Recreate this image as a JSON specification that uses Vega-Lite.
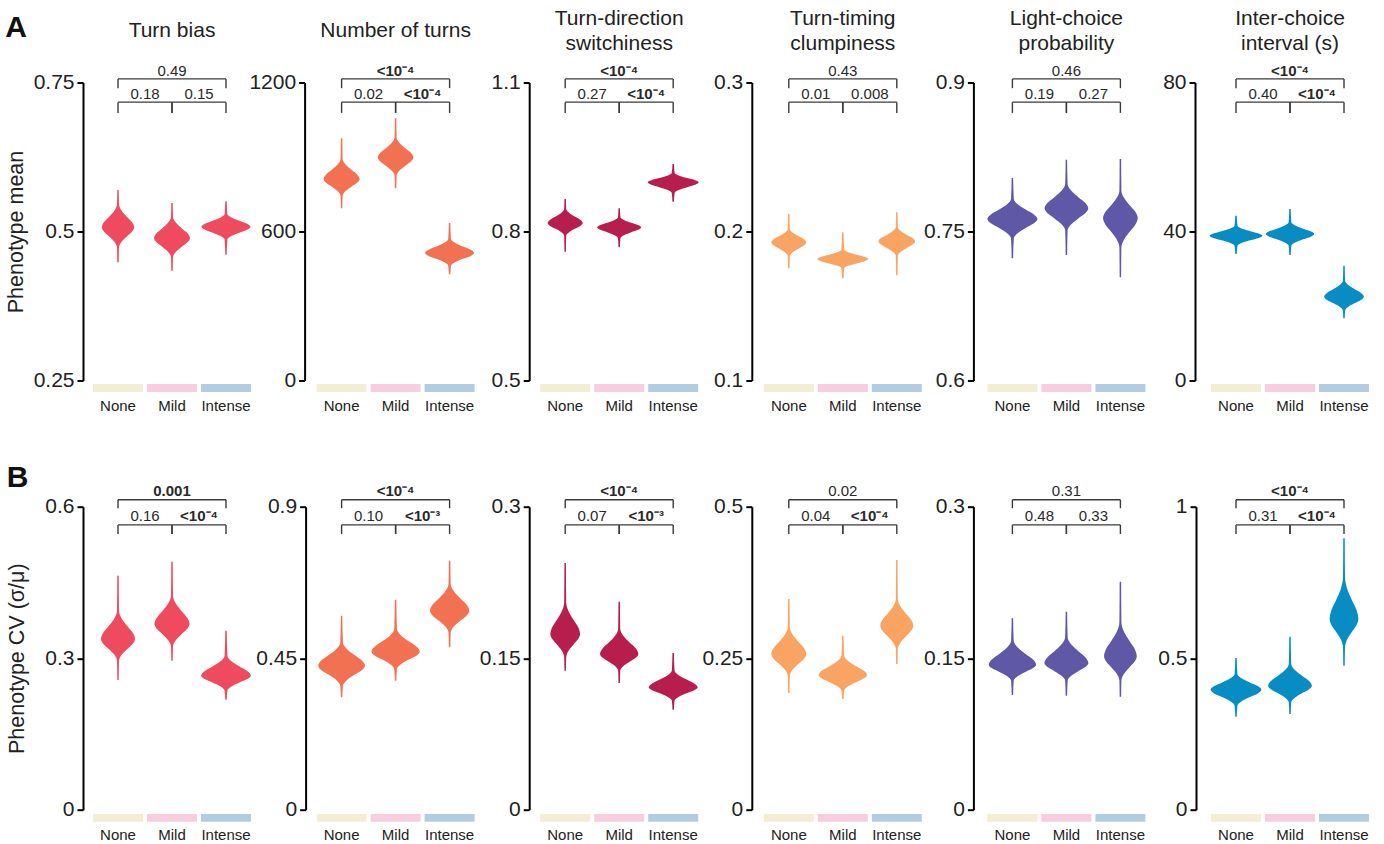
{
"$schema":"https://vega.github.io/schema/vega-lite/v6.json",
"padding":{"left":5,"top":7.5,"right":5,"bottom":5},
"background":"white",
"datasets":{
"brk":[{"t":"U","g1":"None","g2":"Intense"},{"t":"L","g1":"None","g2":"Mild"},{"t":"L","g1":"Mild","g2":"Intense"}],
"grp":[{"g":"None"},{"g":"Mild"},{"g":"Intense"}],
"lab":[
{"p":"A1","g1":"Mild","t":"0.49","b":0},{"p":"A1","g1":"NM","t":"0.18","b":0},{"p":"A1","g1":"MI","t":"0.15","b":0},
{"p":"A2","g1":"Mild","t":"<10⁻⁴","b":1},{"p":"A2","g1":"NM","t":"0.02","b":0},{"p":"A2","g1":"MI","t":"<10⁻⁴","b":1},
{"p":"A3","g1":"Mild","t":"<10⁻⁴","b":1},{"p":"A3","g1":"NM","t":"0.27","b":0},{"p":"A3","g1":"MI","t":"<10⁻⁴","b":1},
{"p":"A4","g1":"Mild","t":"0.43","b":0},{"p":"A4","g1":"NM","t":"0.01","b":0},{"p":"A4","g1":"MI","t":"0.008","b":0},
{"p":"A5","g1":"Mild","t":"0.46","b":0},{"p":"A5","g1":"NM","t":"0.19","b":0},{"p":"A5","g1":"MI","t":"0.27","b":0},
{"p":"A6","g1":"Mild","t":"<10⁻⁴","b":1},{"p":"A6","g1":"NM","t":"0.40","b":0},{"p":"A6","g1":"MI","t":"<10⁻⁴","b":1},
{"p":"B1","g1":"Mild","t":"0.001","b":1},{"p":"B1","g1":"NM","t":"0.16","b":0},{"p":"B1","g1":"MI","t":"<10⁻⁴","b":1},
{"p":"B2","g1":"Mild","t":"<10⁻⁴","b":1},{"p":"B2","g1":"NM","t":"0.10","b":0},{"p":"B2","g1":"MI","t":"<10⁻³","b":1},
{"p":"B3","g1":"Mild","t":"<10⁻⁴","b":1},{"p":"B3","g1":"NM","t":"0.07","b":0},{"p":"B3","g1":"MI","t":"<10⁻³","b":1},
{"p":"B4","g1":"Mild","t":"0.02","b":0},{"p":"B4","g1":"NM","t":"0.04","b":0},{"p":"B4","g1":"MI","t":"<10⁻⁴","b":1},
{"p":"B5","g1":"Mild","t":"0.31","b":0},{"p":"B5","g1":"NM","t":"0.48","b":0},{"p":"B5","g1":"MI","t":"0.33","b":0},
{"p":"B6","g1":"Mild","t":"<10⁻⁴","b":1},{"p":"B6","g1":"NM","t":"0.31","b":0},{"p":"B6","g1":"MI","t":"<10⁻⁴","b":1}
],
"vio":[
{"p":"A1","g":"N","v":0.5696,"d":1.5},{"p":"A1","g":"N","v":0.5457,"d":2},{"p":"A1","g":"N","v":0.5344,"d":7.6},{"p":"A1","g":"N","v":0.5248,"d":17.6},{"p":"A1","g":"N","v":0.5159,"d":27.8},{"p":"A1","g":"N","v":0.5071,"d":32.3},{"p":"A1","g":"N","v":0.4994,"d":27.8},{"p":"A1","g":"N","v":0.4917,"d":17.6},{"p":"A1","g":"N","v":0.4833,"d":7.6},{"p":"A1","g":"N","v":0.4735,"d":2},{"p":"A1","g":"N","v":0.4483,"d":1.5},
{"p":"A1","g":"M","v":0.5478,"d":1.5},{"p":"A1","g":"M","v":0.5243,"d":2},{"p":"A1","g":"M","v":0.5141,"d":8.5},{"p":"A1","g":"M","v":0.5052,"d":19.7},{"p":"A1","g":"M","v":0.4972,"d":31},{"p":"A1","g":"M","v":0.4891,"d":36},{"p":"A1","g":"M","v":0.4818,"d":31},{"p":"A1","g":"M","v":0.4745,"d":19.7},{"p":"A1","g":"M","v":0.4665,"d":8.5},{"p":"A1","g":"M","v":0.4572,"d":2},{"p":"A1","g":"M","v":0.4342,"d":1.5},
{"p":"A1","g":"I","v":0.5507,"d":1.5},{"p":"A1","g":"I","v":0.5294,"d":2.7},{"p":"A1","g":"I","v":0.5232,"d":11.6},{"p":"A1","g":"I","v":0.5179,"d":26.8},{"p":"A1","g":"I","v":0.5130,"d":42.1},{"p":"A1","g":"I","v":0.5081,"d":49},{"p":"A1","g":"I","v":0.5031,"d":42.1},{"p":"A1","g":"I","v":0.4981,"d":26.8},{"p":"A1","g":"I","v":0.4927,"d":11.6},{"p":"A1","g":"I","v":0.4863,"d":2.7},{"p":"A1","g":"I","v":0.4611,"d":1.5},
{"p":"A2","g":"N","v":975.3,"d":1.5},{"p":"A2","g":"N","v":891.9,"d":2},{"p":"A2","g":"N","v":868.4,"d":8.5},{"p":"A2","g":"N","v":848.3,"d":19.7},{"p":"A2","g":"N","v":829.8,"d":31},{"p":"A2","g":"N","v":811.4,"d":36},{"p":"A2","g":"N","v":796.0,"d":31},{"p":"A2","g":"N","v":780.6,"d":19.7},{"p":"A2","g":"N","v":763.8,"d":8.5},{"p":"A2","g":"N","v":744.2,"d":2},{"p":"A2","g":"N","v":693.4,"d":1.5},
{"p":"A2","g":"M","v":1055.8,"d":1.5},{"p":"A2","g":"M","v":979.3,"d":2},{"p":"A2","g":"M","v":955.8,"d":8.4},{"p":"A2","g":"M","v":935.7,"d":19.5},{"p":"A2","g":"M","v":917.2,"d":30.7},{"p":"A2","g":"M","v":898.8,"d":35.7},{"p":"A2","g":"M","v":881.9,"d":30.7},{"p":"A2","g":"M","v":865.0,"d":19.5},{"p":"A2","g":"M","v":846.6,"d":8.4},{"p":"A2","g":"M","v":825.1,"d":2},{"p":"A2","g":"M","v":773.9,"d":1.5},
{"p":"A2","g":"I","v":634.2,"d":1.5},{"p":"A2","g":"I","v":569.8,"d":2.7},{"p":"A2","g":"I","v":553.3,"d":11.6},{"p":"A2","g":"I","v":539.2,"d":26.8},{"p":"A2","g":"I","v":526.3,"d":42.1},{"p":"A2","g":"I","v":513.4,"d":49},{"p":"A2","g":"I","v":501.7,"d":42.1},{"p":"A2","g":"I","v":490.0,"d":26.8},{"p":"A2","g":"I","v":477.2,"d":11.6},{"p":"A2","g":"I","v":462.3,"d":2.7},{"p":"A2","g":"I","v":427.6,"d":1.5},
{"p":"A3","g":"N","v":0.8654,"d":1.5},{"p":"A3","g":"N","v":0.8453,"d":2},{"p":"A3","g":"N","v":0.8371,"d":8.3},{"p":"A3","g":"N","v":0.8300,"d":19.1},{"p":"A3","g":"N","v":0.8236,"d":30.1},{"p":"A3","g":"N","v":0.8171,"d":35},{"p":"A3","g":"N","v":0.8112,"d":30.1},{"p":"A3","g":"N","v":0.8054,"d":19.1},{"p":"A3","g":"N","v":0.7990,"d":8.3},{"p":"A3","g":"N","v":0.7915,"d":2},{"p":"A3","g":"N","v":0.7593,"d":1.5},
{"p":"A3","g":"M","v":0.8467,"d":1.5},{"p":"A3","g":"M","v":0.8286,"d":2.5},{"p":"A3","g":"M","v":0.8228,"d":10.4},{"p":"A3","g":"M","v":0.8177,"d":24},{"p":"A3","g":"M","v":0.8131,"d":37.8},{"p":"A3","g":"M","v":0.8085,"d":44},{"p":"A3","g":"M","v":0.8034,"d":37.8},{"p":"A3","g":"M","v":0.7984,"d":24},{"p":"A3","g":"M","v":0.7928,"d":10.4},{"p":"A3","g":"M","v":0.7864,"d":2.5},{"p":"A3","g":"M","v":0.7682,"d":1.5},
{"p":"A3","g":"I","v":0.9359,"d":1.5},{"p":"A3","g":"I","v":0.9178,"d":2.9},{"p":"A3","g":"I","v":0.9124,"d":12},{"p":"A3","g":"I","v":0.9077,"d":27.8},{"p":"A3","g":"I","v":0.9034,"d":43.9},{"p":"A3","g":"I","v":0.8991,"d":51},{"p":"A3","g":"I","v":0.8942,"d":43.9},{"p":"A3","g":"I","v":0.8892,"d":27.8},{"p":"A3","g":"I","v":0.8839,"d":12},{"p":"A3","g":"I","v":0.8776,"d":2.9},{"p":"A3","g":"I","v":0.8600,"d":1.5},
{"p":"A4","g":"N","v":0.2117,"d":1.5},{"p":"A4","g":"N","v":0.2017,"d":2},{"p":"A4","g":"N","v":0.1991,"d":8.3},{"p":"A4","g":"N","v":0.1969,"d":19.1},{"p":"A4","g":"N","v":0.1948,"d":30.1},{"p":"A4","g":"N","v":0.1928,"d":35},{"p":"A4","g":"N","v":0.1906,"d":30.1},{"p":"A4","g":"N","v":0.1885,"d":19.1},{"p":"A4","g":"N","v":0.1862,"d":8.3},{"p":"A4","g":"N","v":0.1834,"d":2},{"p":"A4","g":"N","v":0.1753,"d":1.5},
{"p":"A4","g":"M","v":0.1995,"d":1.5},{"p":"A4","g":"M","v":0.1877,"d":2.9},{"p":"A4","g":"M","v":0.1859,"d":12},{"p":"A4","g":"M","v":0.1844,"d":27.8},{"p":"A4","g":"M","v":0.1829,"d":43.9},{"p":"A4","g":"M","v":0.1815,"d":51},{"p":"A4","g":"M","v":0.1801,"d":43.9},{"p":"A4","g":"M","v":0.1786,"d":27.8},{"p":"A4","g":"M","v":0.1771,"d":12},{"p":"A4","g":"M","v":0.1753,"d":2.9},{"p":"A4","g":"M","v":0.1686,"d":1.5},
{"p":"A4","g":"I","v":0.2129,"d":1.5},{"p":"A4","g":"I","v":0.2028,"d":2.1},{"p":"A4","g":"I","v":0.2001,"d":8.7},{"p":"A4","g":"I","v":0.1977,"d":20},{"p":"A4","g":"I","v":0.1956,"d":31.6},{"p":"A4","g":"I","v":0.1934,"d":36.7},{"p":"A4","g":"I","v":0.1912,"d":31.6},{"p":"A4","g":"I","v":0.1890,"d":20},{"p":"A4","g":"I","v":0.1866,"d":8.7},{"p":"A4","g":"I","v":0.1838,"d":2.1},{"p":"A4","g":"I","v":0.1708,"d":1.5},
{"p":"A5","g":"N","v":0.8039,"d":1.5},{"p":"A5","g":"N","v":0.7827,"d":2.8},{"p":"A5","g":"N","v":0.7769,"d":11.8},{"p":"A5","g":"N","v":0.7718,"d":27.3},{"p":"A5","g":"N","v":0.7672,"d":43},{"p":"A5","g":"N","v":0.7626,"d":50},{"p":"A5","g":"N","v":0.7582,"d":43},{"p":"A5","g":"N","v":0.7537,"d":27.3},{"p":"A5","g":"N","v":0.7488,"d":11.8},{"p":"A5","g":"N","v":0.7432,"d":2.8},{"p":"A5","g":"N","v":0.7230,"d":1.5},
{"p":"A5","g":"M","v":0.8223,"d":1.5},{"p":"A5","g":"M","v":0.7979,"d":2.4},{"p":"A5","g":"M","v":0.7907,"d":10.3},{"p":"A5","g":"M","v":0.7846,"d":23.9},{"p":"A5","g":"M","v":0.7790,"d":37.6},{"p":"A5","g":"M","v":0.7734,"d":43.7},{"p":"A5","g":"M","v":0.7683,"d":37.6},{"p":"A5","g":"M","v":0.7631,"d":23.9},{"p":"A5","g":"M","v":0.7575,"d":10.3},{"p":"A5","g":"M","v":0.7510,"d":2.4},{"p":"A5","g":"M","v":0.7263,"d":1.5},
{"p":"A5","g":"I","v":0.8230,"d":1.5},{"p":"A5","g":"I","v":0.7911,"d":2},{"p":"A5","g":"I","v":0.7831,"d":8.2},{"p":"A5","g":"I","v":0.7762,"d":18.9},{"p":"A5","g":"I","v":0.7699,"d":29.8},{"p":"A5","g":"I","v":0.7636,"d":34.7},{"p":"A5","g":"I","v":0.7569,"d":29.8},{"p":"A5","g":"I","v":0.7501,"d":18.9},{"p":"A5","g":"I","v":0.7427,"d":8.2},{"p":"A5","g":"I","v":0.7341,"d":2},{"p":"A5","g":"I","v":0.7039,"d":1.5},
{"p":"A6","g":"N","v":44.24,"d":1.5},{"p":"A6","g":"N","v":41.56,"d":3},{"p":"A6","g":"N","v":40.77,"d":12.4},{"p":"A6","g":"N","v":40.10,"d":28.8},{"p":"A6","g":"N","v":39.49,"d":45.3},{"p":"A6","g":"N","v":38.87,"d":52.7},{"p":"A6","g":"N","v":38.26,"d":45.3},{"p":"A6","g":"N","v":37.64,"d":28.8},{"p":"A6","g":"N","v":36.97,"d":12.4},{"p":"A6","g":"N","v":36.19,"d":3},{"p":"A6","g":"N","v":33.96,"d":1.5},
{"p":"A6","g":"M","v":46.04,"d":1.5},{"p":"A6","g":"M","v":42.47,"d":2.7},{"p":"A6","g":"M","v":41.55,"d":11.4},{"p":"A6","g":"M","v":40.77,"d":26.4},{"p":"A6","g":"M","v":40.05,"d":41.5},{"p":"A6","g":"M","v":39.33,"d":48.3},{"p":"A6","g":"M","v":38.61,"d":41.5},{"p":"A6","g":"M","v":37.89,"d":26.4},{"p":"A6","g":"M","v":37.11,"d":11.4},{"p":"A6","g":"M","v":36.19,"d":2.7},{"p":"A6","g":"M","v":33.69,"d":1.5},
{"p":"A6","g":"I","v":30.82,"d":1.5},{"p":"A6","g":"I","v":26.80,"d":2.2},{"p":"A6","g":"I","v":25.54,"d":9.4},{"p":"A6","g":"I","v":24.47,"d":21.7},{"p":"A6","g":"I","v":23.48,"d":34.1},{"p":"A6","g":"I","v":22.50,"d":39.7},{"p":"A6","g":"I","v":21.64,"d":34.1},{"p":"A6","g":"I","v":20.78,"d":21.7},{"p":"A6","g":"I","v":19.84,"d":9.4},{"p":"A6","g":"I","v":18.74,"d":2.2},{"p":"A6","g":"I","v":16.70,"d":1.5},
{"p":"B1","g":"N","v":0.4634,"d":1.5},{"p":"B1","g":"N","v":0.3941,"d":2},{"p":"B1","g":"N","v":0.3777,"d":8},{"p":"B1","g":"N","v":0.3637,"d":18.6},{"p":"B1","g":"N","v":0.3508,"d":29.2},{"p":"B1","g":"N","v":0.3380,"d":34},{"p":"B1","g":"N","v":0.3282,"d":29.2},{"p":"B1","g":"N","v":0.3183,"d":18.6},{"p":"B1","g":"N","v":0.3076,"d":8},{"p":"B1","g":"N","v":0.2950,"d":2},{"p":"B1","g":"N","v":0.2568,"d":1.5},
{"p":"B1","g":"M","v":0.4911,"d":1.5},{"p":"B1","g":"M","v":0.4238,"d":2},{"p":"B1","g":"M","v":0.4074,"d":8.3},{"p":"B1","g":"M","v":0.3934,"d":19.1},{"p":"B1","g":"M","v":0.3805,"d":30.1},{"p":"B1","g":"M","v":0.3677,"d":35},{"p":"B1","g":"M","v":0.3576,"d":30.1},{"p":"B1","g":"M","v":0.3475,"d":19.1},{"p":"B1","g":"M","v":0.3364,"d":8.3},{"p":"B1","g":"M","v":0.3235,"d":2},{"p":"B1","g":"M","v":0.2951,"d":1.5},
{"p":"B1","g":"I","v":0.3545,"d":1.5},{"p":"B1","g":"I","v":0.3050,"d":2.8},{"p":"B1","g":"I","v":0.2934,"d":11.7},{"p":"B1","g":"I","v":0.2835,"d":27.1},{"p":"B1","g":"I","v":0.2745,"d":42.7},{"p":"B1","g":"I","v":0.2654,"d":49.7},{"p":"B1","g":"I","v":0.2586,"d":42.7},{"p":"B1","g":"I","v":0.2518,"d":27.1},{"p":"B1","g":"I","v":0.2444,"d":11.7},{"p":"B1","g":"I","v":0.2357,"d":2.8},{"p":"B1","g":"I","v":0.2178,"d":1.5},
{"p":"B2","g":"N","v":0.5762,"d":1.5},{"p":"B2","g":"N","v":0.4969,"d":2.6},{"p":"B2","g":"N","v":0.4767,"d":11},{"p":"B2","g":"N","v":0.4594,"d":25.5},{"p":"B2","g":"N","v":0.4436,"d":40.2},{"p":"B2","g":"N","v":0.4277,"d":46.7},{"p":"B2","g":"N","v":0.4141,"d":40.2},{"p":"B2","g":"N","v":0.4005,"d":25.5},{"p":"B2","g":"N","v":0.3856,"d":11},{"p":"B2","g":"N","v":0.3683,"d":2.6},{"p":"B2","g":"N","v":0.3339,"d":1.5},
{"p":"B2","g":"M","v":0.6238,"d":1.5},{"p":"B2","g":"M","v":0.5367,"d":2.7},{"p":"B2","g":"M","v":0.5170,"d":11.4},{"p":"B2","g":"M","v":0.5002,"d":26.4},{"p":"B2","g":"M","v":0.4847,"d":41.5},{"p":"B2","g":"M","v":0.4693,"d":48.3},{"p":"B2","g":"M","v":0.4575,"d":41.5},{"p":"B2","g":"M","v":0.4458,"d":26.4},{"p":"B2","g":"M","v":0.4329,"d":11.4},{"p":"B2","g":"M","v":0.4179,"d":2.7},{"p":"B2","g":"M","v":0.3832,"d":1.5},
{"p":"B2","g":"I","v":0.7396,"d":1.5},{"p":"B2","g":"I","v":0.6704,"d":2.2},{"p":"B2","g":"I","v":0.6473,"d":9.3},{"p":"B2","g":"I","v":0.6274,"d":21.5},{"p":"B2","g":"I","v":0.6093,"d":33.8},{"p":"B2","g":"I","v":0.5911,"d":39.3},{"p":"B2","g":"I","v":0.5763,"d":33.8},{"p":"B2","g":"I","v":0.5616,"d":21.5},{"p":"B2","g":"I","v":0.5455,"d":9.3},{"p":"B2","g":"I","v":0.5266,"d":2.2},{"p":"B2","g":"I","v":0.4824,"d":1.5},
{"p":"B3","g":"N","v":0.2443,"d":1.5},{"p":"B3","g":"N","v":0.2054,"d":2},{"p":"B3","g":"N","v":0.1962,"d":7},{"p":"B3","g":"N","v":0.1884,"d":16.2},{"p":"B3","g":"N","v":0.1812,"d":25.5},{"p":"B3","g":"N","v":0.1740,"d":29.7},{"p":"B3","g":"N","v":0.1687,"d":25.5},{"p":"B3","g":"N","v":0.1634,"d":16.2},{"p":"B3","g":"N","v":0.1577,"d":7},{"p":"B3","g":"N","v":0.1509,"d":2},{"p":"B3","g":"N","v":0.1376,"d":1.5},
{"p":"B3","g":"M","v":0.2059,"d":1.5},{"p":"B3","g":"M","v":0.1790,"d":2.1},{"p":"B3","g":"M","v":0.1717,"d":9},{"p":"B3","g":"M","v":0.1655,"d":20.9},{"p":"B3","g":"M","v":0.1599,"d":32.9},{"p":"B3","g":"M","v":0.1542,"d":38.3},{"p":"B3","g":"M","v":0.1504,"d":32.9},{"p":"B3","g":"M","v":0.1466,"d":20.9},{"p":"B3","g":"M","v":0.1425,"d":9},{"p":"B3","g":"M","v":0.1377,"d":2.1},{"p":"B3","g":"M","v":0.1254,"d":1.5},
{"p":"B3","g":"I","v":0.1551,"d":1.5},{"p":"B3","g":"I","v":0.1377,"d":2.7},{"p":"B3","g":"I","v":0.1329,"d":11.6},{"p":"B3","g":"I","v":0.1288,"d":26.8},{"p":"B3","g":"I","v":0.1250,"d":42.1},{"p":"B3","g":"I","v":0.1212,"d":49},{"p":"B3","g":"I","v":0.1182,"d":42.1},{"p":"B3","g":"I","v":0.1152,"d":26.8},{"p":"B3","g":"I","v":0.1119,"d":11.6},{"p":"B3","g":"I","v":0.1080,"d":2.7},{"p":"B3","g":"I","v":0.0990,"d":1.5},
{"p":"B4","g":"N","v":0.3477,"d":1.5},{"p":"B4","g":"N","v":0.3010,"d":2},{"p":"B4","g":"N","v":0.2881,"d":8.3},{"p":"B4","g":"N","v":0.2771,"d":19.1},{"p":"B4","g":"N","v":0.2670,"d":30.1},{"p":"B4","g":"N","v":0.2569,"d":35},{"p":"B4","g":"N","v":0.2487,"d":30.1},{"p":"B4","g":"N","v":0.2405,"d":19.1},{"p":"B4","g":"N","v":0.2316,"d":8.3},{"p":"B4","g":"N","v":0.2211,"d":2},{"p":"B4","g":"N","v":0.1926,"d":1.5},
{"p":"B4","g":"M","v":0.2871,"d":1.5},{"p":"B4","g":"M","v":0.2542,"d":2.7},{"p":"B4","g":"M","v":0.2449,"d":11.4},{"p":"B4","g":"M","v":0.2369,"d":26.4},{"p":"B4","g":"M","v":0.2296,"d":41.5},{"p":"B4","g":"M","v":0.2223,"d":48.3},{"p":"B4","g":"M","v":0.2164,"d":41.5},{"p":"B4","g":"M","v":0.2104,"d":26.4},{"p":"B4","g":"M","v":0.2040,"d":11.4},{"p":"B4","g":"M","v":0.1964,"d":2.7},{"p":"B4","g":"M","v":0.1827,"d":1.5},
{"p":"B4","g":"I","v":0.4121,"d":1.5},{"p":"B4","g":"I","v":0.3477,"d":2},{"p":"B4","g":"I","v":0.3348,"d":7.8},{"p":"B4","g":"I","v":0.3238,"d":18},{"p":"B4","g":"I","v":0.3137,"d":28.4},{"p":"B4","g":"I","v":0.3036,"d":33},{"p":"B4","g":"I","v":0.2948,"d":28.4},{"p":"B4","g":"I","v":0.2860,"d":18},{"p":"B4","g":"I","v":0.2764,"d":7.8},{"p":"B4","g":"I","v":0.2652,"d":2},{"p":"B4","g":"I","v":0.2404,"d":1.5},
{"p":"B5","g":"N","v":0.1895,"d":1.5},{"p":"B5","g":"N","v":0.1674,"d":2.6},{"p":"B5","g":"N","v":0.1604,"d":11.2},{"p":"B5","g":"N","v":0.1545,"d":25.8},{"p":"B5","g":"N","v":0.1490,"d":40.7},{"p":"B5","g":"N","v":0.1436,"d":47.3},{"p":"B5","g":"N","v":0.1400,"d":40.7},{"p":"B5","g":"N","v":0.1364,"d":25.8},{"p":"B5","g":"N","v":0.1324,"d":11.2},{"p":"B5","g":"N","v":0.1278,"d":2.6},{"p":"B5","g":"N","v":0.1136,"d":1.5},
{"p":"B5","g":"M","v":0.1960,"d":1.5},{"p":"B5","g":"M","v":0.1707,"d":2.5},{"p":"B5","g":"M","v":0.1632,"d":10.4},{"p":"B5","g":"M","v":0.1569,"d":24},{"p":"B5","g":"M","v":0.1510,"d":37.8},{"p":"B5","g":"M","v":0.1452,"d":44},{"p":"B5","g":"M","v":0.1412,"d":37.8},{"p":"B5","g":"M","v":0.1372,"d":24},{"p":"B5","g":"M","v":0.1328,"d":10.4},{"p":"B5","g":"M","v":0.1277,"d":2.5},{"p":"B5","g":"M","v":0.1129,"d":1.5},
{"p":"B5","g":"I","v":0.2257,"d":1.5},{"p":"B5","g":"I","v":0.1856,"d":2},{"p":"B5","g":"I","v":0.1757,"d":7.7},{"p":"B5","g":"I","v":0.1673,"d":17.9},{"p":"B5","g":"I","v":0.1596,"d":28.1},{"p":"B5","g":"I","v":0.1519,"d":32.7},{"p":"B5","g":"I","v":0.1464,"d":28.1},{"p":"B5","g":"I","v":0.1409,"d":17.9},{"p":"B5","g":"I","v":0.1349,"d":7.7},{"p":"B5","g":"I","v":0.1278,"d":2},{"p":"B5","g":"I","v":0.1119,"d":1.5},
{"p":"B6","g":"N","v":0.5007,"d":1.5},{"p":"B6","g":"N","v":0.4478,"d":2.8},{"p":"B6","g":"N","v":0.4327,"d":12},{"p":"B6","g":"N","v":0.4198,"d":27.7},{"p":"B6","g":"N","v":0.4079,"d":43.6},{"p":"B6","g":"N","v":0.3960,"d":50.7},{"p":"B6","g":"N","v":0.3839,"d":43.6},{"p":"B6","g":"N","v":0.3718,"d":27.7},{"p":"B6","g":"N","v":0.3586,"d":12},{"p":"B6","g":"N","v":0.3432,"d":2.8},{"p":"B6","g":"N","v":0.3069,"d":1.5},
{"p":"B6","g":"M","v":0.5710,"d":1.5},{"p":"B6","g":"M","v":0.4808,"d":2.4},{"p":"B6","g":"M","v":0.4599,"d":10.3},{"p":"B6","g":"M","v":0.4420,"d":23.9},{"p":"B6","g":"M","v":0.4256,"d":37.6},{"p":"B6","g":"M","v":0.4092,"d":43.7},{"p":"B6","g":"M","v":0.3966,"d":37.6},{"p":"B6","g":"M","v":0.3840,"d":23.9},{"p":"B6","g":"M","v":0.3702,"d":10.3},{"p":"B6","g":"M","v":0.3541,"d":2.4},{"p":"B6","g":"M","v":0.3158,"d":1.5},
{"p":"B6","g":"I","v":0.8957,"d":1.5},{"p":"B6","g":"I","v":0.7670,"d":2},{"p":"B6","g":"I","v":0.7268,"d":6.8},{"p":"B6","g":"I","v":0.6924,"d":15.7},{"p":"B6","g":"I","v":0.6609,"d":24.7},{"p":"B6","g":"I","v":0.6294,"d":28.7},{"p":"B6","g":"I","v":0.6080,"d":24.7},{"p":"B6","g":"I","v":0.5866,"d":15.7},{"p":"B6","g":"I","v":0.5633,"d":6.8},{"p":"B6","g":"I","v":0.5360,"d":2},{"p":"B6","g":"I","v":0.4752,"d":1.5}
]
},
"config":{
"font":"Liberation Sans",
"view":{"stroke":null},
"axis":{"grid":false,"domainColor":"#000","domainWidth":2,"tickColor":"#000","tickWidth":2,"tickSize":6,"labelFontSize":21,"labelColor":"#222","labelPadding":3,"titleFontSize":21.5,"titleFontWeight":"normal","titleColor":"#222","titlePadding":6},
"title":{"fontSize":21,"fontWeight":"normal","color":"#222","baseline":"middle","lineHeight":25,"offset":22.5},
"rule":{"color":"#3a3a3a","strokeWidth":1.4},
"text":{"fontSize":15,"color":"#2a2a2a","baseline":"alphabetic"},
"area":{"interpolate":"monotone","orient":"horizontal"}
},
"bounds":"flush","spacing":424.2,
"vconcat":[
{"title":{"text":"A","fontSize":30,"fontWeight":"bold","anchor":"start","offset":-35,"color":"#111"},"bounds":"flush","spacing":61.6,
"hconcat":[
{"width":162,"height":298,"title":"Turn bias","data":{"name":"vio"},"resolve":{"scale":{"x":"independent","y":"independent"}},"layer":[
{"transform":[{"filter":"datum.p=='A1'&&datum.g=='N'"}],"mark":{"type":"area","color":"#EF4B5F"},"encoding":{"y":{"field":"v","type":"quantitative","scale":{"domain":[0.25,0.75]},"axis":{"values":[0.25,0.5,0.75],"format":".4~g","title":"Phenotype mean","offset":8}},"x":{"field":"d","type":"quantitative","stack":"center","scale":{"domain":[-10.85,151.15]},"axis":null}}},
{"transform":[{"filter":"datum.p=='A1'&&datum.g=='M'"}],"mark":{"type":"area","color":"#EF4B5F"},"encoding":{"y":{"field":"v","type":"quantitative","scale":{"domain":[0.25,0.75]},"axis":null},"x":{"field":"d","type":"quantitative","stack":"center","scale":{"domain":[-63,99]},"axis":null}}},
{"transform":[{"filter":"datum.p=='A1'&&datum.g=='I'"}],"mark":{"type":"area","color":"#EF4B5F"},"encoding":{"y":{"field":"v","type":"quantitative","scale":{"domain":[0.25,0.75]},"axis":null},"x":{"field":"d","type":"quantitative","stack":"center","scale":{"domain":[-110.5,51.5]},"axis":null}}},
{"data":{"name":"brk"},"encoding":{"x":{"field":"g1","type":"nominal","scale":{"type":"point","domain":["None","NM","Mild","MI","Intense"],"padding":1},"axis":null}},"layer":[
{"transform":[{"filter":"datum.t=='U'"}],"mark":"rule","encoding":{"x2":{"field":"g2"},"y":{"datum":101.2,"scale":{"domain":[0,100]},"axis":null}}},
{"transform":[{"filter":"datum.t=='L'"}],"mark":"rule","encoding":{"x2":{"field":"g2"},"y":{"datum":93.4,"scale":{"domain":[0,100]},"axis":null}}},
{"transform":[{"filter":"datum.t=='U'"},{"fold":["g1","g2"],"as":["k","g1"]}],"mark":"rule","encoding":{"y":{"datum":101.2,"scale":{"domain":[0,100]},"axis":null},"y2":{"datum":98.1}}},
{"transform":[{"filter":"datum.t=='L'"},{"fold":["g1","g2"],"as":["k","g1"]}],"mark":"rule","encoding":{"y":{"datum":93.4,"scale":{"domain":[0,100]},"axis":null},"y2":{"datum":89.8}}},
{"data":{"name":"lab"},"transform":[{"filter":"datum.p=='A1'&&datum.g1=='Mild'"}],"mark":{"type":"text","fontWeight":{"expr":"datum.b?'bold':'normal'"}},"encoding":{"y":{"datum":102.3,"scale":{"domain":[0,100]},"axis":null},"text":{"field":"t"}}},
{"data":{"name":"lab"},"transform":[{"filter":"datum.p=='A1'&&datum.g1!='Mild'"}],"mark":{"type":"text","fontWeight":{"expr":"datum.b?'bold':'normal'"}},"encoding":{"y":{"datum":94.5,"scale":{"domain":[0,100]},"axis":null},"text":{"field":"t"}}}
]},
{"data":{"name":"grp"},"mark":"rect","encoding":{"x":{"field":"g","type":"nominal","sort":null,"scale":{"type":"band","domain":["None","Mild","Intense"],"paddingInner":0.074,"paddingOuter":0.037},"axis":{"orient":"bottom","domain":false,"ticks":false,"labelPadding":18,"labelFontSize":15,"labelAngle":0,"title":null}},"y":{"datum":-1.2,"scale":{"domain":[0,100]},"axis":null},"y2":{"datum":-3.9},"color":{"field":"g","type":"nominal","scale":{"domain":["None","Mild","Intense"],"range":["#F3EDD5","#F7CEE0","#B3CCE4"]},"legend":null}}}
]},
{"width":162,"height":298,"title":"Number of turns","data":{"name":"vio"},"resolve":{"scale":{"x":"independent","y":"independent"}},"layer":[
{"transform":[{"filter":"datum.p=='A2'&&datum.g=='N'"}],"mark":{"type":"area","color":"#F27152"},"encoding":{"y":{"field":"v","type":"quantitative","scale":{"domain":[0,1200]},"axis":{"values":[0,600,1200],"format":".4~g","title":null,"offset":10}},"x":{"field":"d","type":"quantitative","stack":"center","scale":{"domain":[-9,153]},"axis":null}}},
{"transform":[{"filter":"datum.p=='A2'&&datum.g=='M'"}],"mark":{"type":"area","color":"#F27152"},"encoding":{"y":{"field":"v","type":"quantitative","scale":{"domain":[0,1200]},"axis":null},"x":{"field":"d","type":"quantitative","stack":"center","scale":{"domain":[-63.15,98.85]},"axis":null}}},
{"transform":[{"filter":"datum.p=='A2'&&datum.g=='I'"}],"mark":{"type":"area","color":"#F27152"},"encoding":{"y":{"field":"v","type":"quantitative","scale":{"domain":[0,1200]},"axis":null},"x":{"field":"d","type":"quantitative","stack":"center","scale":{"domain":[-110.5,51.5]},"axis":null}}},
{"data":{"name":"brk"},"encoding":{"x":{"field":"g1","type":"nominal","scale":{"type":"point","domain":["None","NM","Mild","MI","Intense"],"padding":1},"axis":null}},"layer":[
{"transform":[{"filter":"datum.t=='U'"}],"mark":"rule","encoding":{"x2":{"field":"g2"},"y":{"datum":101.2,"scale":{"domain":[0,100]},"axis":null}}},
{"transform":[{"filter":"datum.t=='L'"}],"mark":"rule","encoding":{"x2":{"field":"g2"},"y":{"datum":93.4,"scale":{"domain":[0,100]},"axis":null}}},
{"transform":[{"filter":"datum.t=='U'"},{"fold":["g1","g2"],"as":["k","g1"]}],"mark":"rule","encoding":{"y":{"datum":101.2,"scale":{"domain":[0,100]},"axis":null},"y2":{"datum":98.1}}},
{"transform":[{"filter":"datum.t=='L'"},{"fold":["g1","g2"],"as":["k","g1"]}],"mark":"rule","encoding":{"y":{"datum":93.4,"scale":{"domain":[0,100]},"axis":null},"y2":{"datum":89.8}}},
{"data":{"name":"lab"},"transform":[{"filter":"datum.p=='A2'&&datum.g1=='Mild'"}],"mark":{"type":"text","fontWeight":{"expr":"datum.b?'bold':'normal'"}},"encoding":{"y":{"datum":102.3,"scale":{"domain":[0,100]},"axis":null},"text":{"field":"t"}}},
{"data":{"name":"lab"},"transform":[{"filter":"datum.p=='A2'&&datum.g1!='Mild'"}],"mark":{"type":"text","fontWeight":{"expr":"datum.b?'bold':'normal'"}},"encoding":{"y":{"datum":94.5,"scale":{"domain":[0,100]},"axis":null},"text":{"field":"t"}}}
]},
{"data":{"name":"grp"},"mark":"rect","encoding":{"x":{"field":"g","type":"nominal","sort":null,"scale":{"type":"band","domain":["None","Mild","Intense"],"paddingInner":0.074,"paddingOuter":0.037},"axis":{"orient":"bottom","domain":false,"ticks":false,"labelPadding":18,"labelFontSize":15,"labelAngle":0,"title":null}},"y":{"datum":-1.2,"scale":{"domain":[0,100]},"axis":null},"y2":{"datum":-3.9},"color":{"field":"g","type":"nominal","scale":{"domain":["None","Mild","Intense"],"range":["#F3EDD5","#F7CEE0","#B3CCE4"]},"legend":null}}}
]},
{"width":162,"height":298,"title":{"text":["Turn-direction","switchiness"],"offset":9.5},"data":{"name":"vio"},"resolve":{"scale":{"x":"independent","y":"independent"}},"layer":[
{"transform":[{"filter":"datum.p=='A3'&&datum.g=='N'"}],"mark":{"type":"area","color":"#B71E4E"},"encoding":{"y":{"field":"v","type":"quantitative","scale":{"domain":[0.5,1.1]},"axis":{"values":[0.5,0.8,1.1],"format":".4~g","title":null,"offset":9}},"x":{"field":"d","type":"quantitative","stack":"center","scale":{"domain":[-9.5,152.5]},"axis":null}}},
{"transform":[{"filter":"datum.p=='A3'&&datum.g=='M'"}],"mark":{"type":"area","color":"#B71E4E"},"encoding":{"y":{"field":"v","type":"quantitative","scale":{"domain":[0.5,1.1]},"axis":null},"x":{"field":"d","type":"quantitative","stack":"center","scale":{"domain":[-59,103]},"axis":null}}},
{"transform":[{"filter":"datum.p=='A3'&&datum.g=='I'"}],"mark":{"type":"area","color":"#B71E4E"},"encoding":{"y":{"field":"v","type":"quantitative","scale":{"domain":[0.5,1.1]},"axis":null},"x":{"field":"d","type":"quantitative","stack":"center","scale":{"domain":[-109.5,52.5]},"axis":null}}},
{"data":{"name":"brk"},"encoding":{"x":{"field":"g1","type":"nominal","scale":{"type":"point","domain":["None","NM","Mild","MI","Intense"],"padding":1},"axis":null}},"layer":[
{"transform":[{"filter":"datum.t=='U'"}],"mark":"rule","encoding":{"x2":{"field":"g2"},"y":{"datum":101.2,"scale":{"domain":[0,100]},"axis":null}}},
{"transform":[{"filter":"datum.t=='L'"}],"mark":"rule","encoding":{"x2":{"field":"g2"},"y":{"datum":93.4,"scale":{"domain":[0,100]},"axis":null}}},
{"transform":[{"filter":"datum.t=='U'"},{"fold":["g1","g2"],"as":["k","g1"]}],"mark":"rule","encoding":{"y":{"datum":101.2,"scale":{"domain":[0,100]},"axis":null},"y2":{"datum":98.1}}},
{"transform":[{"filter":"datum.t=='L'"},{"fold":["g1","g2"],"as":["k","g1"]}],"mark":"rule","encoding":{"y":{"datum":93.4,"scale":{"domain":[0,100]},"axis":null},"y2":{"datum":89.8}}},
{"data":{"name":"lab"},"transform":[{"filter":"datum.p=='A3'&&datum.g1=='Mild'"}],"mark":{"type":"text","fontWeight":{"expr":"datum.b?'bold':'normal'"}},"encoding":{"y":{"datum":102.3,"scale":{"domain":[0,100]},"axis":null},"text":{"field":"t"}}},
{"data":{"name":"lab"},"transform":[{"filter":"datum.p=='A3'&&datum.g1!='Mild'"}],"mark":{"type":"text","fontWeight":{"expr":"datum.b?'bold':'normal'"}},"encoding":{"y":{"datum":94.5,"scale":{"domain":[0,100]},"axis":null},"text":{"field":"t"}}}
]},
{"data":{"name":"grp"},"mark":"rect","encoding":{"x":{"field":"g","type":"nominal","sort":null,"scale":{"type":"band","domain":["None","Mild","Intense"],"paddingInner":0.074,"paddingOuter":0.037},"axis":{"orient":"bottom","domain":false,"ticks":false,"labelPadding":18,"labelFontSize":15,"labelAngle":0,"title":null}},"y":{"datum":-1.2,"scale":{"domain":[0,100]},"axis":null},"y2":{"datum":-3.9},"color":{"field":"g","type":"nominal","scale":{"domain":["None","Mild","Intense"],"range":["#F3EDD5","#F7CEE0","#B3CCE4"]},"legend":null}}}
]},
{"width":162,"height":298,"title":{"text":["Turn-timing","clumpiness"],"offset":9.5},"data":{"name":"vio"},"resolve":{"scale":{"x":"independent","y":"independent"}},"layer":[
{"transform":[{"filter":"datum.p=='A4'&&datum.g=='N'"}],"mark":{"type":"area","color":"#F9A462"},"encoding":{"y":{"field":"v","type":"quantitative","scale":{"domain":[0.1,0.3]},"axis":{"values":[0.1,0.2,0.3],"format":".4~g","title":null,"offset":10}},"x":{"field":"d","type":"quantitative","stack":"center","scale":{"domain":[-9.5,152.5]},"axis":null}}},
{"transform":[{"filter":"datum.p=='A4'&&datum.g=='M'"}],"mark":{"type":"area","color":"#F9A462"},"encoding":{"y":{"field":"v","type":"quantitative","scale":{"domain":[0.1,0.3]},"axis":null},"x":{"field":"d","type":"quantitative","stack":"center","scale":{"domain":[-55.5,106.5]},"axis":null}}},
{"transform":[{"filter":"datum.p=='A4'&&datum.g=='I'"}],"mark":{"type":"area","color":"#F9A462"},"encoding":{"y":{"field":"v","type":"quantitative","scale":{"domain":[0.1,0.3]},"axis":null},"x":{"field":"d","type":"quantitative","stack":"center","scale":{"domain":[-116.65,45.35]},"axis":null}}},
{"data":{"name":"brk"},"encoding":{"x":{"field":"g1","type":"nominal","scale":{"type":"point","domain":["None","NM","Mild","MI","Intense"],"padding":1},"axis":null}},"layer":[
{"transform":[{"filter":"datum.t=='U'"}],"mark":"rule","encoding":{"x2":{"field":"g2"},"y":{"datum":101.2,"scale":{"domain":[0,100]},"axis":null}}},
{"transform":[{"filter":"datum.t=='L'"}],"mark":"rule","encoding":{"x2":{"field":"g2"},"y":{"datum":93.4,"scale":{"domain":[0,100]},"axis":null}}},
{"transform":[{"filter":"datum.t=='U'"},{"fold":["g1","g2"],"as":["k","g1"]}],"mark":"rule","encoding":{"y":{"datum":101.2,"scale":{"domain":[0,100]},"axis":null},"y2":{"datum":98.1}}},
{"transform":[{"filter":"datum.t=='L'"},{"fold":["g1","g2"],"as":["k","g1"]}],"mark":"rule","encoding":{"y":{"datum":93.4,"scale":{"domain":[0,100]},"axis":null},"y2":{"datum":89.8}}},
{"data":{"name":"lab"},"transform":[{"filter":"datum.p=='A4'&&datum.g1=='Mild'"}],"mark":{"type":"text","fontWeight":{"expr":"datum.b?'bold':'normal'"}},"encoding":{"y":{"datum":102.3,"scale":{"domain":[0,100]},"axis":null},"text":{"field":"t"}}},
{"data":{"name":"lab"},"transform":[{"filter":"datum.p=='A4'&&datum.g1!='Mild'"}],"mark":{"type":"text","fontWeight":{"expr":"datum.b?'bold':'normal'"}},"encoding":{"y":{"datum":94.5,"scale":{"domain":[0,100]},"axis":null},"text":{"field":"t"}}}
]},
{"data":{"name":"grp"},"mark":"rect","encoding":{"x":{"field":"g","type":"nominal","sort":null,"scale":{"type":"band","domain":["None","Mild","Intense"],"paddingInner":0.074,"paddingOuter":0.037},"axis":{"orient":"bottom","domain":false,"ticks":false,"labelPadding":18,"labelFontSize":15,"labelAngle":0,"title":null}},"y":{"datum":-1.2,"scale":{"domain":[0,100]},"axis":null},"y2":{"datum":-3.9},"color":{"field":"g","type":"nominal","scale":{"domain":["None","Mild","Intense"],"range":["#F3EDD5","#F7CEE0","#B3CCE4"]},"legend":null}}}
]},
{"width":162,"height":298,"title":{"text":["Light-choice","probability"],"offset":9.5},"data":{"name":"vio"},"resolve":{"scale":{"x":"independent","y":"independent"}},"layer":[
{"transform":[{"filter":"datum.p=='A5'&&datum.g=='N'"}],"mark":{"type":"area","color":"#5E58A6"},"encoding":{"y":{"field":"v","type":"quantitative","scale":{"domain":[0.6,0.9]},"axis":{"values":[0.6,0.75,0.9],"format":".4~g","title":null,"offset":12}},"x":{"field":"d","type":"quantitative","stack":"center","scale":{"domain":[-2,160]},"axis":null}}},
{"transform":[{"filter":"datum.p=='A5'&&datum.g=='M'"}],"mark":{"type":"area","color":"#5E58A6"},"encoding":{"y":{"field":"v","type":"quantitative","scale":{"domain":[0.6,0.9]},"axis":null},"x":{"field":"d","type":"quantitative","stack":"center","scale":{"domain":[-59.15,102.85]},"axis":null}}},
{"transform":[{"filter":"datum.p=='A5'&&datum.g=='I'"}],"mark":{"type":"area","color":"#5E58A6"},"encoding":{"y":{"field":"v","type":"quantitative","scale":{"domain":[0.6,0.9]},"axis":null},"x":{"field":"d","type":"quantitative","stack":"center","scale":{"domain":[-117.65,44.35]},"axis":null}}},
{"data":{"name":"brk"},"encoding":{"x":{"field":"g1","type":"nominal","scale":{"type":"point","domain":["None","NM","Mild","MI","Intense"],"padding":1},"axis":null}},"layer":[
{"transform":[{"filter":"datum.t=='U'"}],"mark":"rule","encoding":{"x2":{"field":"g2"},"y":{"datum":101.2,"scale":{"domain":[0,100]},"axis":null}}},
{"transform":[{"filter":"datum.t=='L'"}],"mark":"rule","encoding":{"x2":{"field":"g2"},"y":{"datum":93.4,"scale":{"domain":[0,100]},"axis":null}}},
{"transform":[{"filter":"datum.t=='U'"},{"fold":["g1","g2"],"as":["k","g1"]}],"mark":"rule","encoding":{"y":{"datum":101.2,"scale":{"domain":[0,100]},"axis":null},"y2":{"datum":98.1}}},
{"transform":[{"filter":"datum.t=='L'"},{"fold":["g1","g2"],"as":["k","g1"]}],"mark":"rule","encoding":{"y":{"datum":93.4,"scale":{"domain":[0,100]},"axis":null},"y2":{"datum":89.8}}},
{"data":{"name":"lab"},"transform":[{"filter":"datum.p=='A5'&&datum.g1=='Mild'"}],"mark":{"type":"text","fontWeight":{"expr":"datum.b?'bold':'normal'"}},"encoding":{"y":{"datum":102.3,"scale":{"domain":[0,100]},"axis":null},"text":{"field":"t"}}},
{"data":{"name":"lab"},"transform":[{"filter":"datum.p=='A5'&&datum.g1!='Mild'"}],"mark":{"type":"text","fontWeight":{"expr":"datum.b?'bold':'normal'"}},"encoding":{"y":{"datum":94.5,"scale":{"domain":[0,100]},"axis":null},"text":{"field":"t"}}}
]},
{"data":{"name":"grp"},"mark":"rect","encoding":{"x":{"field":"g","type":"nominal","sort":null,"scale":{"type":"band","domain":["None","Mild","Intense"],"paddingInner":0.074,"paddingOuter":0.037},"axis":{"orient":"bottom","domain":false,"ticks":false,"labelPadding":18,"labelFontSize":15,"labelAngle":0,"title":null}},"y":{"datum":-1.2,"scale":{"domain":[0,100]},"axis":null},"y2":{"datum":-3.9},"color":{"field":"g","type":"nominal","scale":{"domain":["None","Mild","Intense"],"range":["#F3EDD5","#F7CEE0","#B3CCE4"]},"legend":null}}}
]},
{"width":162,"height":298,"title":{"text":["Inter-choice","interval (s)"],"offset":9.5},"data":{"name":"vio"},"resolve":{"scale":{"x":"independent","y":"independent"}},"layer":[
{"transform":[{"filter":"datum.p=='A6'&&datum.g=='N'"}],"mark":{"type":"area","color":"#078DC4"},"encoding":{"y":{"field":"v","type":"quantitative","scale":{"domain":[0,80]},"axis":{"values":[0,40,80],"format":".4~g","title":null,"offset":14}},"x":{"field":"d","type":"quantitative","stack":"center","scale":{"domain":[-0.65,161.35]},"axis":null}}},
{"transform":[{"filter":"datum.p=='A6'&&datum.g=='M'"}],"mark":{"type":"area","color":"#078DC4"},"encoding":{"y":{"field":"v","type":"quantitative","scale":{"domain":[0,80]},"axis":null},"x":{"field":"d","type":"quantitative","stack":"center","scale":{"domain":[-56.85,105.15]},"axis":null}}},
{"transform":[{"filter":"datum.p=='A6'&&datum.g=='I'"}],"mark":{"type":"area","color":"#078DC4"},"encoding":{"y":{"field":"v","type":"quantitative","scale":{"domain":[0,80]},"axis":null},"x":{"field":"d","type":"quantitative","stack":"center","scale":{"domain":[-115.15,46.85]},"axis":null}}},
{"data":{"name":"brk"},"encoding":{"x":{"field":"g1","type":"nominal","scale":{"type":"point","domain":["None","NM","Mild","MI","Intense"],"padding":1},"axis":null}},"layer":[
{"transform":[{"filter":"datum.t=='U'"}],"mark":"rule","encoding":{"x2":{"field":"g2"},"y":{"datum":101.2,"scale":{"domain":[0,100]},"axis":null}}},
{"transform":[{"filter":"datum.t=='L'"}],"mark":"rule","encoding":{"x2":{"field":"g2"},"y":{"datum":93.4,"scale":{"domain":[0,100]},"axis":null}}},
{"transform":[{"filter":"datum.t=='U'"},{"fold":["g1","g2"],"as":["k","g1"]}],"mark":"rule","encoding":{"y":{"datum":101.2,"scale":{"domain":[0,100]},"axis":null},"y2":{"datum":98.1}}},
{"transform":[{"filter":"datum.t=='L'"},{"fold":["g1","g2"],"as":["k","g1"]}],"mark":"rule","encoding":{"y":{"datum":93.4,"scale":{"domain":[0,100]},"axis":null},"y2":{"datum":89.8}}},
{"data":{"name":"lab"},"transform":[{"filter":"datum.p=='A6'&&datum.g1=='Mild'"}],"mark":{"type":"text","fontWeight":{"expr":"datum.b?'bold':'normal'"}},"encoding":{"y":{"datum":102.3,"scale":{"domain":[0,100]},"axis":null},"text":{"field":"t"}}},
{"data":{"name":"lab"},"transform":[{"filter":"datum.p=='A6'&&datum.g1!='Mild'"}],"mark":{"type":"text","fontWeight":{"expr":"datum.b?'bold':'normal'"}},"encoding":{"y":{"datum":94.5,"scale":{"domain":[0,100]},"axis":null},"text":{"field":"t"}}}
]},
{"data":{"name":"grp"},"mark":"rect","encoding":{"x":{"field":"g","type":"nominal","sort":null,"scale":{"type":"band","domain":["None","Mild","Intense"],"paddingInner":0.074,"paddingOuter":0.037},"axis":{"orient":"bottom","domain":false,"ticks":false,"labelPadding":18,"labelFontSize":15,"labelAngle":0,"title":null}},"y":{"datum":-1.2,"scale":{"domain":[0,100]},"axis":null},"y2":{"datum":-3.9},"color":{"field":"g","type":"nominal","scale":{"domain":["None","Mild","Intense"],"range":["#F3EDD5","#F7CEE0","#B3CCE4"]},"legend":null}}}
]}
]},
{"title":{"text":"B","fontSize":30,"fontWeight":"bold","anchor":"start","offset":-9,"color":"#111"},"bounds":"flush","spacing":61.6,
"hconcat":[
{"width":162,"height":303,"data":{"name":"vio"},"resolve":{"scale":{"x":"independent","y":"independent"}},"layer":[
{"transform":[{"filter":"datum.p=='B1'&&datum.g=='N'"}],"mark":{"type":"area","color":"#EF4B5F"},"encoding":{"y":{"field":"v","type":"quantitative","scale":{"domain":[0,0.6]},"axis":{"values":[0,0.3,0.6],"format":".4~g","title":"Phenotype CV (σ/μ)","titlePadding":16,"offset":8}},"x":{"field":"d","type":"quantitative","stack":"center","scale":{"domain":[-10,152]},"axis":null}}},
{"transform":[{"filter":"datum.p=='B1'&&datum.g=='M'"}],"mark":{"type":"area","color":"#EF4B5F"},"encoding":{"y":{"field":"v","type":"quantitative","scale":{"domain":[0,0.6]},"axis":null},"x":{"field":"d","type":"quantitative","stack":"center","scale":{"domain":[-63.5,98.5]},"axis":null}}},
{"transform":[{"filter":"datum.p=='B1'&&datum.g=='I'"}],"mark":{"type":"area","color":"#EF4B5F"},"encoding":{"y":{"field":"v","type":"quantitative","scale":{"domain":[0,0.6]},"axis":null},"x":{"field":"d","type":"quantitative","stack":"center","scale":{"domain":[-110.15,51.85]},"axis":null}}},
{"data":{"name":"brk"},"encoding":{"x":{"field":"g1","type":"nominal","scale":{"type":"point","domain":["None","NM","Mild","MI","Intense"],"padding":1},"axis":null}},"layer":[
{"transform":[{"filter":"datum.t=='U'"}],"mark":"rule","encoding":{"x2":{"field":"g2"},"y":{"datum":102.3,"scale":{"domain":[0,100]},"axis":null}}},
{"transform":[{"filter":"datum.t=='L'"}],"mark":"rule","encoding":{"x2":{"field":"g2"},"y":{"datum":94.0,"scale":{"domain":[0,100]},"axis":null}}},
{"transform":[{"filter":"datum.t=='U'"},{"fold":["g1","g2"],"as":["k","g1"]}],"mark":"rule","encoding":{"y":{"datum":102.3,"scale":{"domain":[0,100]},"axis":null},"y2":{"datum":99.5}}},
{"transform":[{"filter":"datum.t=='L'"},{"fold":["g1","g2"],"as":["k","g1"]}],"mark":"rule","encoding":{"y":{"datum":94.0,"scale":{"domain":[0,100]},"axis":null},"y2":{"datum":91.0}}},
{"data":{"name":"lab"},"transform":[{"filter":"datum.p=='B1'&&datum.g1=='Mild'"}],"mark":{"type":"text","fontWeight":{"expr":"datum.b?'bold':'normal'"}},"encoding":{"y":{"datum":103.4,"scale":{"domain":[0,100]},"axis":null},"text":{"field":"t"}}},
{"data":{"name":"lab"},"transform":[{"filter":"datum.p=='B1'&&datum.g1!='Mild'"}],"mark":{"type":"text","fontWeight":{"expr":"datum.b?'bold':'normal'"}},"encoding":{"y":{"datum":95.2,"scale":{"domain":[0,100]},"axis":null},"text":{"field":"t"}}}
]},
{"data":{"name":"grp"},"mark":"rect","encoding":{"x":{"field":"g","type":"nominal","sort":null,"scale":{"type":"band","domain":["None","Mild","Intense"],"paddingInner":0.074,"paddingOuter":0.037},"axis":{"orient":"bottom","domain":false,"ticks":false,"labelPadding":18,"labelFontSize":15,"labelAngle":0,"title":null}},"y":{"datum":-1.4,"scale":{"domain":[0,100]},"axis":null},"y2":{"datum":-4.0},"color":{"field":"g","type":"nominal","scale":{"domain":["None","Mild","Intense"],"range":["#F3EDD5","#F7CEE0","#B3CCE4"]},"legend":null}}}
]},
{"width":162,"height":303,"data":{"name":"vio"},"resolve":{"scale":{"x":"independent","y":"independent"}},"layer":[
{"transform":[{"filter":"datum.p=='B2'&&datum.g=='N'"}],"mark":{"type":"area","color":"#F27152"},"encoding":{"y":{"field":"v","type":"quantitative","scale":{"domain":[0,0.9]},"axis":{"values":[0,0.45,0.9],"format":".4~g","title":null,"offset":9}},"x":{"field":"d","type":"quantitative","stack":"center","scale":{"domain":[-3.65,158.35]},"axis":null}}},
{"transform":[{"filter":"datum.p=='B2'&&datum.g=='M'"}],"mark":{"type":"area","color":"#F27152"},"encoding":{"y":{"field":"v","type":"quantitative","scale":{"domain":[0,0.9]},"axis":null},"x":{"field":"d","type":"quantitative","stack":"center","scale":{"domain":[-56.85,105.15]},"axis":null}}},
{"transform":[{"filter":"datum.p=='B2'&&datum.g=='I'"}],"mark":{"type":"area","color":"#F27152"},"encoding":{"y":{"field":"v","type":"quantitative","scale":{"domain":[0,0.9]},"axis":null},"x":{"field":"d","type":"quantitative","stack":"center","scale":{"domain":[-115.35,46.65]},"axis":null}}},
{"data":{"name":"brk"},"encoding":{"x":{"field":"g1","type":"nominal","scale":{"type":"point","domain":["None","NM","Mild","MI","Intense"],"padding":1},"axis":null}},"layer":[
{"transform":[{"filter":"datum.t=='U'"}],"mark":"rule","encoding":{"x2":{"field":"g2"},"y":{"datum":102.3,"scale":{"domain":[0,100]},"axis":null}}},
{"transform":[{"filter":"datum.t=='L'"}],"mark":"rule","encoding":{"x2":{"field":"g2"},"y":{"datum":94.0,"scale":{"domain":[0,100]},"axis":null}}},
{"transform":[{"filter":"datum.t=='U'"},{"fold":["g1","g2"],"as":["k","g1"]}],"mark":"rule","encoding":{"y":{"datum":102.3,"scale":{"domain":[0,100]},"axis":null},"y2":{"datum":99.5}}},
{"transform":[{"filter":"datum.t=='L'"},{"fold":["g1","g2"],"as":["k","g1"]}],"mark":"rule","encoding":{"y":{"datum":94.0,"scale":{"domain":[0,100]},"axis":null},"y2":{"datum":91.0}}},
{"data":{"name":"lab"},"transform":[{"filter":"datum.p=='B2'&&datum.g1=='Mild'"}],"mark":{"type":"text","fontWeight":{"expr":"datum.b?'bold':'normal'"}},"encoding":{"y":{"datum":103.4,"scale":{"domain":[0,100]},"axis":null},"text":{"field":"t"}}},
{"data":{"name":"lab"},"transform":[{"filter":"datum.p=='B2'&&datum.g1!='Mild'"}],"mark":{"type":"text","fontWeight":{"expr":"datum.b?'bold':'normal'"}},"encoding":{"y":{"datum":95.2,"scale":{"domain":[0,100]},"axis":null},"text":{"field":"t"}}}
]},
{"data":{"name":"grp"},"mark":"rect","encoding":{"x":{"field":"g","type":"nominal","sort":null,"scale":{"type":"band","domain":["None","Mild","Intense"],"paddingInner":0.074,"paddingOuter":0.037},"axis":{"orient":"bottom","domain":false,"ticks":false,"labelPadding":18,"labelFontSize":15,"labelAngle":0,"title":null}},"y":{"datum":-1.4,"scale":{"domain":[0,100]},"axis":null},"y2":{"datum":-4.0},"color":{"field":"g","type":"nominal","scale":{"domain":["None","Mild","Intense"],"range":["#F3EDD5","#F7CEE0","#B3CCE4"]},"legend":null}}}
]},
{"width":162,"height":303,"data":{"name":"vio"},"resolve":{"scale":{"x":"independent","y":"independent"}},"layer":[
{"transform":[{"filter":"datum.p=='B3'&&datum.g=='N'"}],"mark":{"type":"area","color":"#B71E4E"},"encoding":{"y":{"field":"v","type":"quantitative","scale":{"domain":[0,0.3]},"axis":{"values":[0,0.15,0.3],"format":".4~g","title":null,"offset":9}},"x":{"field":"d","type":"quantitative","stack":"center","scale":{"domain":[-12.15,149.85]},"axis":null}}},
{"transform":[{"filter":"datum.p=='B3'&&datum.g=='M'"}],"mark":{"type":"area","color":"#B71E4E"},"encoding":{"y":{"field":"v","type":"quantitative","scale":{"domain":[0,0.3]},"axis":null},"x":{"field":"d","type":"quantitative","stack":"center","scale":{"domain":[-61.85,100.15]},"axis":null}}},
{"transform":[{"filter":"datum.p=='B3'&&datum.g=='I'"}],"mark":{"type":"area","color":"#B71E4E"},"encoding":{"y":{"field":"v","type":"quantitative","scale":{"domain":[0,0.3]},"axis":null},"x":{"field":"d","type":"quantitative","stack":"center","scale":{"domain":[-110.5,51.5]},"axis":null}}},
{"data":{"name":"brk"},"encoding":{"x":{"field":"g1","type":"nominal","scale":{"type":"point","domain":["None","NM","Mild","MI","Intense"],"padding":1},"axis":null}},"layer":[
{"transform":[{"filter":"datum.t=='U'"}],"mark":"rule","encoding":{"x2":{"field":"g2"},"y":{"datum":102.3,"scale":{"domain":[0,100]},"axis":null}}},
{"transform":[{"filter":"datum.t=='L'"}],"mark":"rule","encoding":{"x2":{"field":"g2"},"y":{"datum":94.0,"scale":{"domain":[0,100]},"axis":null}}},
{"transform":[{"filter":"datum.t=='U'"},{"fold":["g1","g2"],"as":["k","g1"]}],"mark":"rule","encoding":{"y":{"datum":102.3,"scale":{"domain":[0,100]},"axis":null},"y2":{"datum":99.5}}},
{"transform":[{"filter":"datum.t=='L'"},{"fold":["g1","g2"],"as":["k","g1"]}],"mark":"rule","encoding":{"y":{"datum":94.0,"scale":{"domain":[0,100]},"axis":null},"y2":{"datum":91.0}}},
{"data":{"name":"lab"},"transform":[{"filter":"datum.p=='B3'&&datum.g1=='Mild'"}],"mark":{"type":"text","fontWeight":{"expr":"datum.b?'bold':'normal'"}},"encoding":{"y":{"datum":103.4,"scale":{"domain":[0,100]},"axis":null},"text":{"field":"t"}}},
{"data":{"name":"lab"},"transform":[{"filter":"datum.p=='B3'&&datum.g1!='Mild'"}],"mark":{"type":"text","fontWeight":{"expr":"datum.b?'bold':'normal'"}},"encoding":{"y":{"datum":95.2,"scale":{"domain":[0,100]},"axis":null},"text":{"field":"t"}}}
]},
{"data":{"name":"grp"},"mark":"rect","encoding":{"x":{"field":"g","type":"nominal","sort":null,"scale":{"type":"band","domain":["None","Mild","Intense"],"paddingInner":0.074,"paddingOuter":0.037},"axis":{"orient":"bottom","domain":false,"ticks":false,"labelPadding":18,"labelFontSize":15,"labelAngle":0,"title":null}},"y":{"datum":-1.4,"scale":{"domain":[0,100]},"axis":null},"y2":{"datum":-4.0},"color":{"field":"g","type":"nominal","scale":{"domain":["None","Mild","Intense"],"range":["#F3EDD5","#F7CEE0","#B3CCE4"]},"legend":null}}}
]},
{"width":162,"height":303,"data":{"name":"vio"},"resolve":{"scale":{"x":"independent","y":"independent"}},"layer":[
{"transform":[{"filter":"datum.p=='B4'&&datum.g=='N'"}],"mark":{"type":"area","color":"#F9A462"},"encoding":{"y":{"field":"v","type":"quantitative","scale":{"domain":[0,0.5]},"axis":{"values":[0,0.25,0.5],"format":".4~g","title":null,"offset":10}},"x":{"field":"d","type":"quantitative","stack":"center","scale":{"domain":[-9.5,152.5]},"axis":null}}},
{"transform":[{"filter":"datum.p=='B4'&&datum.g=='M'"}],"mark":{"type":"area","color":"#F9A462"},"encoding":{"y":{"field":"v","type":"quantitative","scale":{"domain":[0,0.5]},"axis":null},"x":{"field":"d","type":"quantitative","stack":"center","scale":{"domain":[-56.85,105.15]},"axis":null}}},
{"transform":[{"filter":"datum.p=='B4'&&datum.g=='I'"}],"mark":{"type":"area","color":"#F9A462"},"encoding":{"y":{"field":"v","type":"quantitative","scale":{"domain":[0,0.5]},"axis":null},"x":{"field":"d","type":"quantitative","stack":"center","scale":{"domain":[-118.5,43.5]},"axis":null}}},
{"data":{"name":"brk"},"encoding":{"x":{"field":"g1","type":"nominal","scale":{"type":"point","domain":["None","NM","Mild","MI","Intense"],"padding":1},"axis":null}},"layer":[
{"transform":[{"filter":"datum.t=='U'"}],"mark":"rule","encoding":{"x2":{"field":"g2"},"y":{"datum":102.3,"scale":{"domain":[0,100]},"axis":null}}},
{"transform":[{"filter":"datum.t=='L'"}],"mark":"rule","encoding":{"x2":{"field":"g2"},"y":{"datum":94.0,"scale":{"domain":[0,100]},"axis":null}}},
{"transform":[{"filter":"datum.t=='U'"},{"fold":["g1","g2"],"as":["k","g1"]}],"mark":"rule","encoding":{"y":{"datum":102.3,"scale":{"domain":[0,100]},"axis":null},"y2":{"datum":99.5}}},
{"transform":[{"filter":"datum.t=='L'"},{"fold":["g1","g2"],"as":["k","g1"]}],"mark":"rule","encoding":{"y":{"datum":94.0,"scale":{"domain":[0,100]},"axis":null},"y2":{"datum":91.0}}},
{"data":{"name":"lab"},"transform":[{"filter":"datum.p=='B4'&&datum.g1=='Mild'"}],"mark":{"type":"text","fontWeight":{"expr":"datum.b?'bold':'normal'"}},"encoding":{"y":{"datum":103.4,"scale":{"domain":[0,100]},"axis":null},"text":{"field":"t"}}},
{"data":{"name":"lab"},"transform":[{"filter":"datum.p=='B4'&&datum.g1!='Mild'"}],"mark":{"type":"text","fontWeight":{"expr":"datum.b?'bold':'normal'"}},"encoding":{"y":{"datum":95.2,"scale":{"domain":[0,100]},"axis":null},"text":{"field":"t"}}}
]},
{"data":{"name":"grp"},"mark":"rect","encoding":{"x":{"field":"g","type":"nominal","sort":null,"scale":{"type":"band","domain":["None","Mild","Intense"],"paddingInner":0.074,"paddingOuter":0.037},"axis":{"orient":"bottom","domain":false,"ticks":false,"labelPadding":18,"labelFontSize":15,"labelAngle":0,"title":null}},"y":{"datum":-1.4,"scale":{"domain":[0,100]},"axis":null},"y2":{"datum":-4.0},"color":{"field":"g","type":"nominal","scale":{"domain":["None","Mild","Intense"],"range":["#F3EDD5","#F7CEE0","#B3CCE4"]},"legend":null}}}
]},
{"width":162,"height":303,"data":{"name":"vio"},"resolve":{"scale":{"x":"independent","y":"independent"}},"layer":[
{"transform":[{"filter":"datum.p=='B5'&&datum.g=='N'"}],"mark":{"type":"area","color":"#5E58A6"},"encoding":{"y":{"field":"v","type":"quantitative","scale":{"domain":[0,0.3]},"axis":{"values":[0,0.15,0.3],"format":".4~g","title":null,"offset":12}},"x":{"field":"d","type":"quantitative","stack":"center","scale":{"domain":[-3.35,158.65]},"axis":null}}},
{"transform":[{"filter":"datum.p=='B5'&&datum.g=='M'"}],"mark":{"type":"area","color":"#5E58A6"},"encoding":{"y":{"field":"v","type":"quantitative","scale":{"domain":[0,0.3]},"axis":null},"x":{"field":"d","type":"quantitative","stack":"center","scale":{"domain":[-59,103]},"axis":null}}},
{"transform":[{"filter":"datum.p=='B5'&&datum.g=='I'"}],"mark":{"type":"area","color":"#5E58A6"},"encoding":{"y":{"field":"v","type":"quantitative","scale":{"domain":[0,0.3]},"axis":null},"x":{"field":"d","type":"quantitative","stack":"center","scale":{"domain":[-118.65,43.35]},"axis":null}}},
{"data":{"name":"brk"},"encoding":{"x":{"field":"g1","type":"nominal","scale":{"type":"point","domain":["None","NM","Mild","MI","Intense"],"padding":1},"axis":null}},"layer":[
{"transform":[{"filter":"datum.t=='U'"}],"mark":"rule","encoding":{"x2":{"field":"g2"},"y":{"datum":102.3,"scale":{"domain":[0,100]},"axis":null}}},
{"transform":[{"filter":"datum.t=='L'"}],"mark":"rule","encoding":{"x2":{"field":"g2"},"y":{"datum":94.0,"scale":{"domain":[0,100]},"axis":null}}},
{"transform":[{"filter":"datum.t=='U'"},{"fold":["g1","g2"],"as":["k","g1"]}],"mark":"rule","encoding":{"y":{"datum":102.3,"scale":{"domain":[0,100]},"axis":null},"y2":{"datum":99.5}}},
{"transform":[{"filter":"datum.t=='L'"},{"fold":["g1","g2"],"as":["k","g1"]}],"mark":"rule","encoding":{"y":{"datum":94.0,"scale":{"domain":[0,100]},"axis":null},"y2":{"datum":91.0}}},
{"data":{"name":"lab"},"transform":[{"filter":"datum.p=='B5'&&datum.g1=='Mild'"}],"mark":{"type":"text","fontWeight":{"expr":"datum.b?'bold':'normal'"}},"encoding":{"y":{"datum":103.4,"scale":{"domain":[0,100]},"axis":null},"text":{"field":"t"}}},
{"data":{"name":"lab"},"transform":[{"filter":"datum.p=='B5'&&datum.g1!='Mild'"}],"mark":{"type":"text","fontWeight":{"expr":"datum.b?'bold':'normal'"}},"encoding":{"y":{"datum":95.2,"scale":{"domain":[0,100]},"axis":null},"text":{"field":"t"}}}
]},
{"data":{"name":"grp"},"mark":"rect","encoding":{"x":{"field":"g","type":"nominal","sort":null,"scale":{"type":"band","domain":["None","Mild","Intense"],"paddingInner":0.074,"paddingOuter":0.037},"axis":{"orient":"bottom","domain":false,"ticks":false,"labelPadding":18,"labelFontSize":15,"labelAngle":0,"title":null}},"y":{"datum":-1.4,"scale":{"domain":[0,100]},"axis":null},"y2":{"datum":-4.0},"color":{"field":"g","type":"nominal","scale":{"domain":["None","Mild","Intense"],"range":["#F3EDD5","#F7CEE0","#B3CCE4"]},"legend":null}}}
]},
{"width":162,"height":303,"data":{"name":"vio"},"resolve":{"scale":{"x":"independent","y":"independent"}},"layer":[
{"transform":[{"filter":"datum.p=='B6'&&datum.g=='N'"}],"mark":{"type":"area","color":"#078DC4"},"encoding":{"y":{"field":"v","type":"quantitative","scale":{"domain":[0,1]},"axis":{"values":[0,0.5,1],"format":".4~g","title":null,"offset":13}},"x":{"field":"d","type":"quantitative","stack":"center","scale":{"domain":[-1.65,160.35]},"axis":null}}},
{"transform":[{"filter":"datum.p=='B6'&&datum.g=='M'"}],"mark":{"type":"area","color":"#078DC4"},"encoding":{"y":{"field":"v","type":"quantitative","scale":{"domain":[0,1]},"axis":null},"x":{"field":"d","type":"quantitative","stack":"center","scale":{"domain":[-59.15,102.85]},"axis":null}}},
{"transform":[{"filter":"datum.p=='B6'&&datum.g=='I'"}],"mark":{"type":"area","color":"#078DC4"},"encoding":{"y":{"field":"v","type":"quantitative","scale":{"domain":[0,1]},"axis":null},"x":{"field":"d","type":"quantitative","stack":"center","scale":{"domain":[-120.65,41.35]},"axis":null}}},
{"data":{"name":"brk"},"encoding":{"x":{"field":"g1","type":"nominal","scale":{"type":"point","domain":["None","NM","Mild","MI","Intense"],"padding":1},"axis":null}},"layer":[
{"transform":[{"filter":"datum.t=='U'"}],"mark":"rule","encoding":{"x2":{"field":"g2"},"y":{"datum":102.3,"scale":{"domain":[0,100]},"axis":null}}},
{"transform":[{"filter":"datum.t=='L'"}],"mark":"rule","encoding":{"x2":{"field":"g2"},"y":{"datum":94.0,"scale":{"domain":[0,100]},"axis":null}}},
{"transform":[{"filter":"datum.t=='U'"},{"fold":["g1","g2"],"as":["k","g1"]}],"mark":"rule","encoding":{"y":{"datum":102.3,"scale":{"domain":[0,100]},"axis":null},"y2":{"datum":99.5}}},
{"transform":[{"filter":"datum.t=='L'"},{"fold":["g1","g2"],"as":["k","g1"]}],"mark":"rule","encoding":{"y":{"datum":94.0,"scale":{"domain":[0,100]},"axis":null},"y2":{"datum":91.0}}},
{"data":{"name":"lab"},"transform":[{"filter":"datum.p=='B6'&&datum.g1=='Mild'"}],"mark":{"type":"text","fontWeight":{"expr":"datum.b?'bold':'normal'"}},"encoding":{"y":{"datum":103.4,"scale":{"domain":[0,100]},"axis":null},"text":{"field":"t"}}},
{"data":{"name":"lab"},"transform":[{"filter":"datum.p=='B6'&&datum.g1!='Mild'"}],"mark":{"type":"text","fontWeight":{"expr":"datum.b?'bold':'normal'"}},"encoding":{"y":{"datum":95.2,"scale":{"domain":[0,100]},"axis":null},"text":{"field":"t"}}}
]},
{"data":{"name":"grp"},"mark":"rect","encoding":{"x":{"field":"g","type":"nominal","sort":null,"scale":{"type":"band","domain":["None","Mild","Intense"],"paddingInner":0.074,"paddingOuter":0.037},"axis":{"orient":"bottom","domain":false,"ticks":false,"labelPadding":18,"labelFontSize":15,"labelAngle":0,"title":null}},"y":{"datum":-1.4,"scale":{"domain":[0,100]},"axis":null},"y2":{"datum":-4.0},"color":{"field":"g","type":"nominal","scale":{"domain":["None","Mild","Intense"],"range":["#F3EDD5","#F7CEE0","#B3CCE4"]},"legend":null}}}
]}
]}
]
}
